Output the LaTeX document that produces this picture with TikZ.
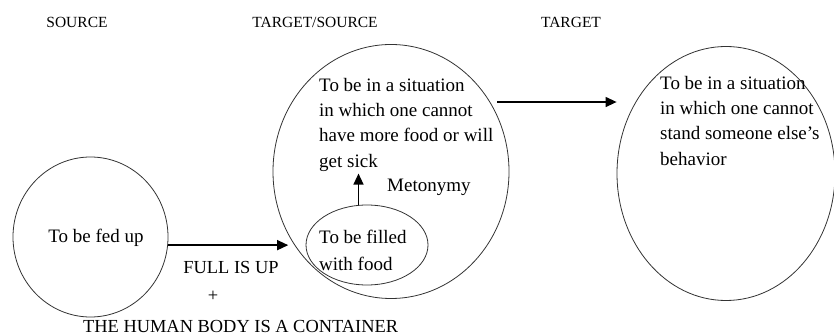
\documentclass[tikz,border=0pt]{standalone}
\usepackage{fontspec}
\setmainfont{Liberation Serif}
\usetikzlibrary{shapes.geometric,arrows.meta}
\begin{document}
\begin{tikzpicture}[x=1pt,y=-1pt,
  domainshape/.style={ellipse, draw=black!80, line width=0.8pt, inner sep=0pt},
  bodytext/.style={font=\fontsize{19}{25.3}\selectfont, align=left, inner sep=0pt, anchor=north west},
  headtext/.style={font=\fontsize{15.5}{18}\selectfont, inner sep=0pt},
  maptext/.style={font=\fontsize{18.4}{22}\selectfont, inner sep=0pt},
  arr/.style={line width=1.3pt, -{Triangle[length=11pt,width=10pt]}}]
\useasboundingbox (0,0) rectangle (834,336);

% column headings
\node[headtext] (hsrc) at (77,22) {SOURCE};
\node[headtext] (hmid) at (315,22) {TARGET/SOURCE};
\node[headtext] (htgt) at (571,22) {TARGET};

% domains
\node[domainshape, minimum width=155pt, minimum height=160pt] (src) at (90.5,237) {};
\node[domainshape, minimum width=236pt, minimum height=254pt] (mid) at (391,171.5) {};
\node[domainshape, minimum width=122pt, minimum height=80pt] (fill) at (367,245) {};
\node[domainshape, minimum width=218pt, minimum height=254pt] (tgt) at (726,173.5) {};

% domain contents
\node[font=\fontsize{19}{25}\selectfont, inner sep=0pt, anchor=base] (srctext) at (96,243) {To be fed up};
\node[bodytext] (midtext) at (319,78) {To be in a situation\\in which one cannot\\have more food or will\\get sick};
\node[bodytext, font=\fontsize{19}{27}\selectfont] (filltext) at (319,230) {To be filled\\with food};
\node[bodytext] (tgttext) at (660,76) {To be in a situation\\in which one cannot\\stand someone else’s\\behavior};

% labels
\node[font=\fontsize{19}{25}\selectfont, inner sep=0pt, anchor=base west] (meto) at (387,192) {Metonymy};
\node[maptext, anchor=base] (full) at (231,273) {FULL IS UP};
\node[maptext] (plus) at (213,296) {+};
\node[maptext, anchor=base west] (container) at (83,332) {THE HUMAN BODY IS A CONTAINER};

% mappings
\draw[arr, shorten >=7pt] (src.-6.7) -- (src.-6.7 -| mid.218.3);
\draw[arr, shorten <=7pt] (mid.35.4) -- (mid.35.4 -| tgt.west);
\draw[arr, shorten >=2pt] (fill.102.8) -- (fill.102.8 |- midtext.south);
\end{tikzpicture}
\end{document}
